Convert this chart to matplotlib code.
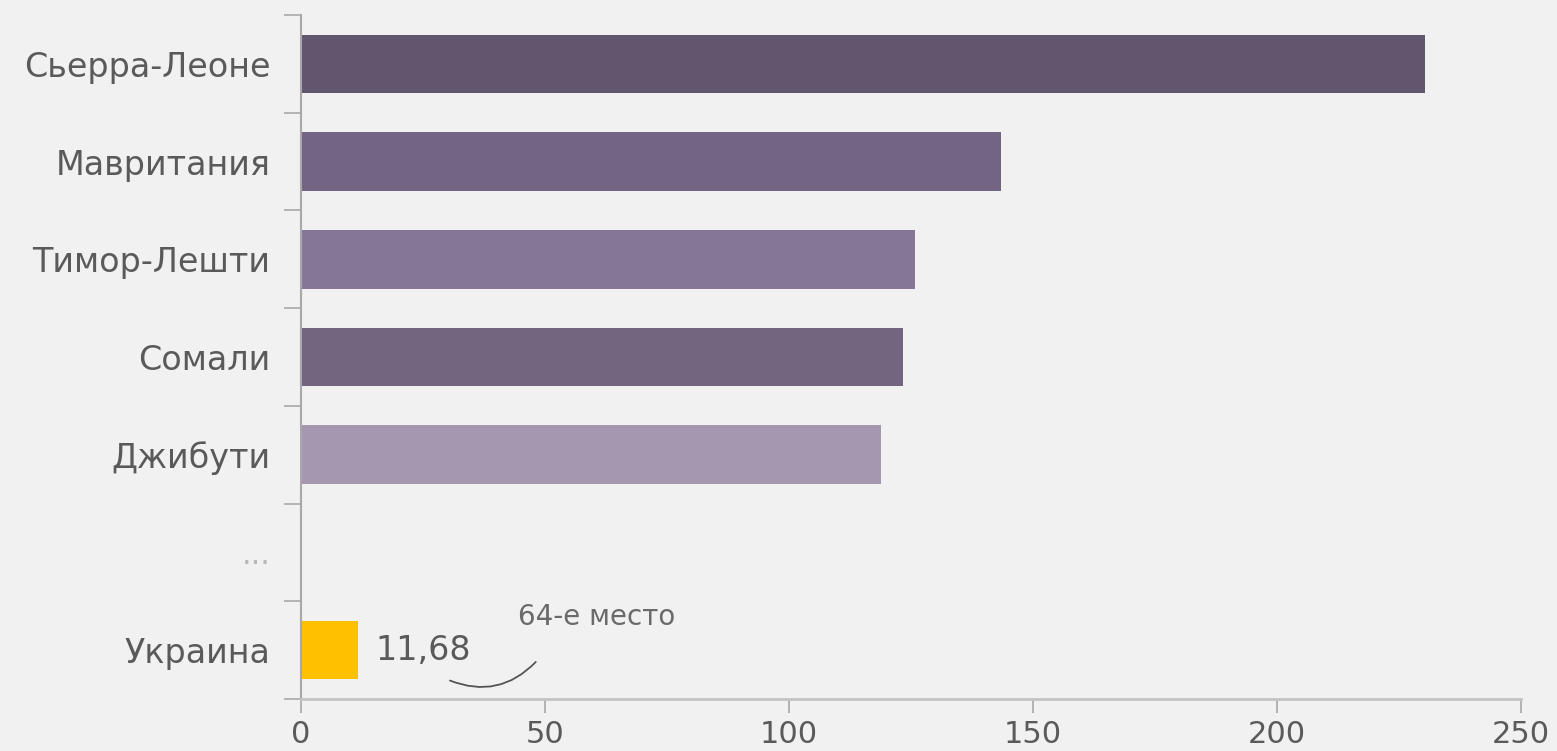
import numpy as np
import matplotlib.pyplot as plt

# данные
countries = ["Сьерра-Леоне", "Мавритания", "Тимор-Лешти", "Сомали", "Джибути", "...", "Украина"]
values = [230.3, 143.4, 125.8, 123.4, 118.9, 0, 11.68]
colors = ["#62566e", "#726482", "#857696", "#736580", "#a497af", "#f1f1f1", "#ffc000"]
xticks = [0, 50, 100, 150, 200, 250]

plt.rcParams['font.family'] = ['DejaVu Sans']
bg = "#f1f1f1"
txt = "#5a5a5a"
axc = "#a8a8a8"

fig = plt.figure(figsize=(15.57, 7.51), dpi=100, facecolor=bg)
ax = fig.add_axes([0.1933, 0.0692, 0.9769 - 0.1933, 0.98 - 0.0692], facecolor=bg)

y = np.arange(len(countries))
ax.barh(y, values, height=0.6, color=colors)

ax.set_xlim(0, 250)
ax.set_ylim(len(countries) - 0.5, -0.5)

# засечки по границам категорий, подписи по центрам
ax.set_yticks(np.arange(-0.5, len(countries), 1.0))
ax.set_yticklabels([])
ax.set_yticks(y, minor=True)
ax.set_yticklabels(countries, minor=True)
ax.tick_params(axis='y', which='major', length=12, width=1.2, color=axc, direction='out')
ax.tick_params(axis='y', which='minor', length=0, pad=22, labelsize=24, labelcolor=txt)
for lab in ax.get_yticklabels(minor=True):
    if lab.get_text() == "...":
        lab.set_color("#b8b8b8")
        lab.set_fontsize(22)

ax.set_xticks(xticks)
ax.set_xticklabels([str(t) for t in xticks])
ax.tick_params(axis='x', length=10, width=1.2, color=axc, pad=5, labelsize=22, labelcolor=txt)

for s in ['top', 'right']:
    ax.spines[s].set_visible(False)
ax.spines['left'].set_color(axc)
ax.spines['left'].set_linewidth(1.5)
ax.spines['bottom'].set_color("#c4c4c4")
ax.spines['bottom'].set_linewidth(2)

# подпись Украины
ax.text(values[6] + 3.5, 6, "11,68", va='center', ha='left', fontsize=24, color=txt)
ax.text(44.5, 5.66, "64-е место", va='center', ha='left', fontsize=20, color="#6a6a6a")
ax.annotate("", xy=(48.5, 6.1), xytext=(30, 6.3),
            arrowprops=dict(arrowstyle='-', color="#555555", lw=1.3,
                            connectionstyle="arc3,rad=0.35"))

plt.savefig("out.png", dpi=100, facecolor=bg)
